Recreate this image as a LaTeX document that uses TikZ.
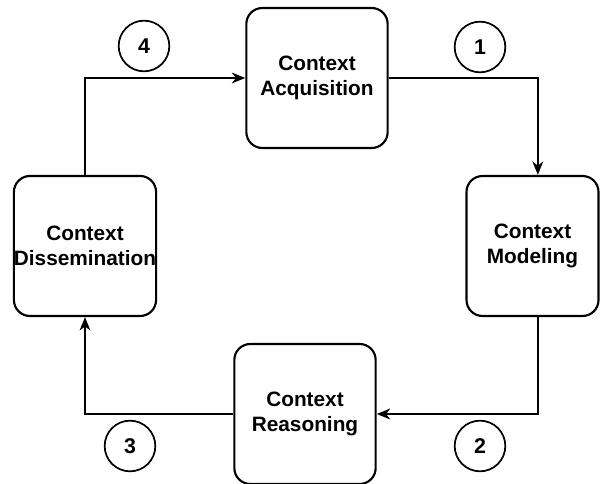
\documentclass[tikz,border=0pt]{standalone}
\usepackage{fontspec}
\setmainfont{Liberation Sans}
\usetikzlibrary{arrows.meta}

\tikzset{
  stage/.style={draw, line width=1.6pt, rounded corners=12pt, align=center,
    minimum width=106pt, minimum height=105pt, inner sep=0pt,
    font=\fontsize{15.6}{18.5}\selectfont\bfseries},
  numcirc/.style={circle, draw, line width=1.3pt, minimum size=38pt, inner sep=0pt,
    font=\fontsize{16}{18}\selectfont\bfseries},
  flow/.style={line width=1.6pt, -{Stealth[length=10pt,width=8pt,inset=3pt]}}
}

\begin{document}
\begin{tikzpicture}[x=0.75pt,y=0.75pt,yscale=-1]
  \useasboundingbox (0,0) rectangle (600,484);

  %stages of the cycle
  \node[stage] (acq) at (317,78) {Context\\Acquisition};
  \node[stage, minimum width=99pt] (model) at (532.5,246) {Context\\Modeling};
  \node[stage] (reason) at (305,414) {Context\\Reasoning};
  \node[stage] (dissem) at (85,246) {Context\\Dissemination};

  %step numbers
  \node[numcirc] (n1) at (480,47) {1};
  \node[numcirc] (n2) at (480,446) {2};
  \node[numcirc] (n3) at (130,446) {3};
  \node[numcirc] (n4) at (144,46) {4};

  %connectors
  \draw[flow] (acq.east) -| ([xshift=4pt]model.north);
  \draw[flow] ([xshift=4pt]model.south) |- (reason.east);
  \draw[flow] (reason.west) -| (dissem.south);
  \draw[flow] (dissem.north) |- (acq.west);
\end{tikzpicture}
\end{document}
